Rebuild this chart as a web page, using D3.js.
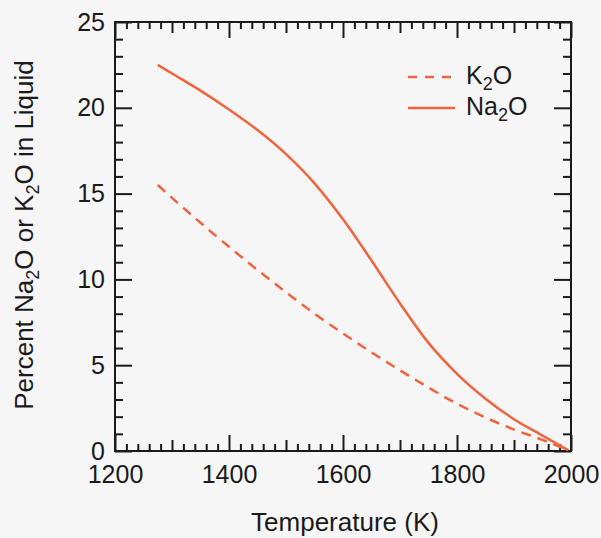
<!DOCTYPE html>
<html>
<head>
<meta charset="utf-8">
<script src="https://cdn.jsdelivr.net/npm/d3@7"></script>
<style>
  html, body { margin: 0; padding: 0; background: #f6f6f6; }
  svg { display: block; }
  text { font-family: "Liberation Sans", Arial, Helvetica, sans-serif; fill: #1a1a1a; }
</style>
</head>
<body>
<svg id="chart" width="601" height="538"></svg>
<script>
// ---- Data ----
const temperatureK2O = [1275, 1300, 1350, 1400, 1450, 1500, 1550, 1600, 1650, 1700, 1750, 1800, 1850, 1900, 1950, 1995];
const percentK2O     = [15.5, 14.75, 13.3, 11.9, 10.55, 9.25, 8.0, 6.85, 5.75, 4.7, 3.7, 2.75, 1.95, 1.25, 0.65, 0.05];
const temperatureNa2O = [1275, 1300, 1350, 1400, 1450, 1500, 1550, 1600, 1650, 1700, 1750, 1800, 1850, 1900, 1950, 1995];
const percentNa2O     = [22.5, 22.0, 21.0, 19.9, 18.7, 17.3, 15.6, 13.5, 11.1, 8.6, 6.3, 4.5, 3.05, 1.85, 0.9, 0.05];
const xTickLabels = [1200, 1400, 1600, 1800, 2000];
const yTickLabels = [0, 5, 10, 15, 20, 25];
const seriesNames = ["K2O", "Na2O"];

// ---- Layout ----
const svg = d3.select("#chart");
const x0 = 115, x1 = 571, y0 = 451, y1 = 22;
const x = d3.scaleLinear().domain([1200, 2000]).range([x0, x1]);
const y = d3.scaleLinear().domain([0, 25]).range([y0, y1]);
const lineColor = "#f0643e";
const axisColor = "#1a1a1a";

svg.append("rect").attr("width", 601).attr("height", 538).attr("fill", "#f6f6f6");

function styleAxis(g) {
  g.select(".domain").remove();
  g.selectAll("line").attr("stroke", axisColor).attr("stroke-width", 2);
  g.selectAll("text").attr("fill", axisColor);
}

const xMinor = d3.range(1200, 2001, 20).filter(v => v % 100 !== 0);
const xMedium = d3.range(1300, 2000, 200);
const yMinor = d3.range(0, 26, 1).filter(v => v % 5 !== 0);

// bottom axis
svg.append("g").attr("transform", `translate(0,${y0})`)
  .call(d3.axisBottom(x).tickValues(xMinor).tickSize(-7).tickFormat(""))
  .call(styleAxis);
svg.append("g").attr("transform", `translate(0,${y0})`)
  .call(d3.axisBottom(x).tickValues(xMedium).tickSize(-11).tickFormat(""))
  .call(styleAxis);
svg.append("g").attr("transform", `translate(0,${y0})`)
  .call(d3.axisBottom(x).tickValues(xTickLabels).tickSize(-16).tickPadding(14).tickFormat(d3.format("d")))
  .call(styleAxis)
  .call(g => g.selectAll("text").style("font-size", "25px"));
// top axis
svg.append("g").attr("transform", `translate(0,${y1})`)
  .call(d3.axisTop(x).tickValues(xMinor).tickSize(-7).tickFormat(""))
  .call(styleAxis);
svg.append("g").attr("transform", `translate(0,${y1})`)
  .call(d3.axisTop(x).tickValues(xMedium).tickSize(-11).tickFormat(""))
  .call(styleAxis);
svg.append("g").attr("transform", `translate(0,${y1})`)
  .call(d3.axisTop(x).tickValues(xTickLabels).tickSize(-16).tickFormat(""))
  .call(styleAxis);
// left axis
svg.append("g").attr("transform", `translate(${x0},0)`)
  .call(d3.axisLeft(y).tickValues(yMinor).tickSize(-8).tickFormat(""))
  .call(styleAxis);
svg.append("g").attr("transform", `translate(${x0},0)`)
  .call(d3.axisLeft(y).tickValues(yTickLabels).tickSize(-17).tickPadding(10).tickFormat(d3.format("d")))
  .call(styleAxis)
  .call(g => g.selectAll("text").style("font-size", "25px"));
// right axis
svg.append("g").attr("transform", `translate(${x1},0)`)
  .call(d3.axisRight(y).tickValues(yMinor).tickSize(-8).tickFormat(""))
  .call(styleAxis);
svg.append("g").attr("transform", `translate(${x1},0)`)
  .call(d3.axisRight(y).tickValues(yTickLabels).tickSize(-17).tickFormat(""))
  .call(styleAxis);

// frame
svg.append("rect")
  .attr("x", x0).attr("y", y1).attr("width", x1 - x0).attr("height", y0 - y1)
  .attr("fill", "none").attr("stroke", axisColor).attr("stroke-width", 2);

// lines
const line = d3.line().x(d => x(d[0])).y(d => y(d[1])).curve(d3.curveMonotoneX);
const k2o = temperatureK2O.map((t, i) => [t, percentK2O[i]]);
const na2o = temperatureNa2O.map((t, i) => [t, percentNa2O[i]]);

svg.append("path").datum(k2o).attr("d", line)
  .attr("fill", "none").attr("stroke", lineColor).attr("stroke-width", 2.5)
  .attr("stroke-dasharray", "10,7");
svg.append("path").datum(na2o).attr("d", line)
  .attr("fill", "none").attr("stroke", lineColor).attr("stroke-width", 2.5);

// legend
const legend = svg.append("g");
const legendItems = [
  { name: seriesNames[0], base: "K", dash: "9,8", ly: 77, ty: 84 },
  { name: seriesNames[1], base: "Na", dash: null, ly: 108, ty: 115 }
];
legendItems.forEach(it => {
  legend.append("line")
    .attr("x1", 408).attr("x2", 455).attr("y1", it.ly).attr("y2", it.ly)
    .attr("stroke", lineColor).attr("stroke-width", 2.5)
    .attr("stroke-dasharray", it.dash);
  const t = legend.append("text").attr("x", 466).attr("y", it.ty).style("font-size", "25px");
  t.append("tspan").text(it.base);
  t.append("tspan").attr("dy", 6).style("font-size", "18px").text("2");
  t.append("tspan").attr("dy", -6).text("O");
});

// axis titles
svg.append("text")
  .attr("x", 345).attr("y", 531)
  .attr("text-anchor", "middle").style("font-size", "26px")
  .text("Temperature (K)");

const yt = svg.append("text")
  .attr("transform", "translate(33,235) rotate(-90)")
  .attr("text-anchor", "middle").style("font-size", "26px");
yt.append("tspan").text("Percent Na");
yt.append("tspan").attr("dy", 6).style("font-size", "18px").text("2");
yt.append("tspan").attr("dy", -6).text("O or K");
yt.append("tspan").attr("dy", 6).style("font-size", "18px").text("2");
yt.append("tspan").attr("dy", -6).text("O in Liquid");
</script>
</body>
</html>
